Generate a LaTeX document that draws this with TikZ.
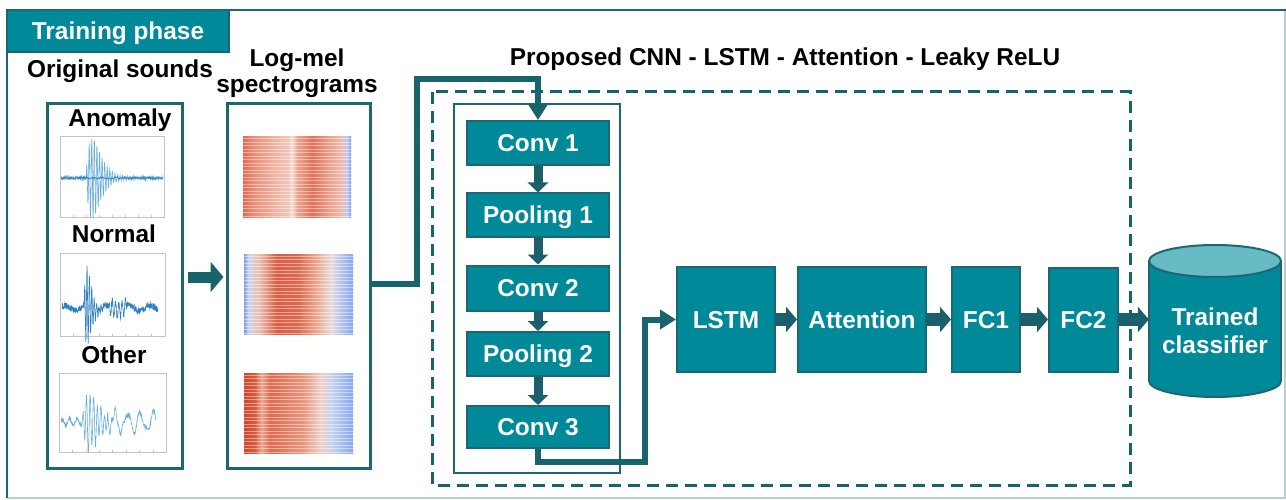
\documentclass[tikz,border=0pt]{standalone}
\usepackage{fontspec}
\setmainfont{Liberation Sans}
\usetikzlibrary{arrows.meta}
\definecolor{tealfill}{HTML}{008A99}
\definecolor{tealedge}{HTML}{1D6870}
\definecolor{tealdark}{HTML}{17646C}
\definecolor{arrowdark}{HTML}{1B5E6C}
\definecolor{cyltop}{HTML}{66BBC5}
\definecolor{framegray}{HTML}{B9CDD2}
\definecolor{plotgray}{HTML}{C4C4C4}
\definecolor{wavelight}{HTML}{6AAEDC}
\definecolor{wavemid}{HTML}{2F80C4}
% spectrogram colours
\definecolor{sA0}{HTML}{E36A50}
\definecolor{sA1}{HTML}{EC8F78}
\definecolor{sA2}{HTML}{F1B4A3}
\definecolor{sA3}{HTML}{F0C6BA}
\definecolor{sA4}{HTML}{F5DED6}
\definecolor{sA5}{HTML}{EFA590}
\definecolor{sA6}{HTML}{E0705A}
\definecolor{sA7}{HTML}{EC9580}
\definecolor{sA8}{HTML}{F0B8A8}
\definecolor{sA9}{HTML}{C9CBEA}
\definecolor{sA10}{HTML}{7E9BE8}
\definecolor{sB0}{HTML}{7C99E6}
\definecolor{sB1}{HTML}{CDD3EC}
\definecolor{sB2}{HTML}{EBBFAF}
\definecolor{sB3}{HTML}{D95E44}
\definecolor{sB4}{HTML}{DC6A4E}
\definecolor{sB5}{HTML}{EFA58C}
\definecolor{sB6}{HTML}{E6DCDE}
\definecolor{sB7}{HTML}{AFC1EE}
\definecolor{sB8}{HTML}{87A4EE}
\definecolor{sC0}{HTML}{D2472E}
\definecolor{sC1}{HTML}{D85A3E}
\definecolor{sC2}{HTML}{EFA58E}
\definecolor{sC3}{HTML}{DE6A50}
\definecolor{sC4}{HTML}{E9957C}
\definecolor{sC5}{HTML}{F0D0C6}
\definecolor{sC6}{HTML}{C6D2F0}
\definecolor{sC7}{HTML}{8AA7EE}
\pgfdeclarehorizontalshading{specA}{100bp}{color(0bp)=(sA0); color(25bp)=(sA0); color(30bp)=(sA1); color(40bp)=(sA2); color(46bp)=(sA3); color(47.5bp)=(sA4); color(50bp)=(sA5); color(57bp)=(sA6); color(63bp)=(sA7); color(70bp)=(sA8); color(73bp)=(sA9); color(75bp)=(sA10); color(100bp)=(sA10)}
\pgfdeclarehorizontalshading{specB}{100bp}{color(0bp)=(sB0); color(25bp)=(sB0); color(27bp)=(sB1); color(32bp)=(sB2); color(40bp)=(sB3); color(50bp)=(sB4); color(58bp)=(sB5); color(65bp)=(sB6); color(70bp)=(sB7); color(75bp)=(sB8); color(100bp)=(sB8)}
\pgfdeclarehorizontalshading{specC}{100bp}{color(0bp)=(sC0); color(25bp)=(sC0); color(30bp)=(sC1); color(33bp)=(sC2); color(37bp)=(sC3); color(52bp)=(sC4); color(60bp)=(sC5); color(65bp)=(sC6); color(75bp)=(sC7); color(100bp)=(sC7)}
\newcommand\lblfont{\fontsize{24.4}{28}\selectfont\bfseries}
\begin{document}
\begin{tikzpicture}[x=1pt,y=-1pt,
  txt/.style={font=\lblfont, text=black, inner sep=0pt, anchor=base},
  blk/.style={draw=tealedge, line width=2pt, fill=tealfill, text=white, font=\lblfont,
    inner sep=0pt, text height=17.5pt, text depth=0pt},
  tab/.style={draw=tealedge, line width=2pt, fill=tealfill, text=white, font=\lblfont,
    inner sep=0pt, text height=17.5pt, text depth=0pt, minimum width=222pt, minimum height=42pt},
  panel/.style={draw=tealedge, line width=3pt, inner sep=0pt},
  conn/.style={draw=tealdark, line width=6pt, -{Triangle[width=19pt,length=16pt]}},
  smallarr/.style={draw=arrowdark, line width=9pt, -{Triangle[width=20pt,length=10pt]}},
  harr/.style={draw=arrowdark, line width=13pt, -{Triangle[width=25pt,length=11pt]}},
  bigarr/.style={draw=tealdark, line width=11pt, -{Triangle[width=30pt,length=13pt]}},
  plotframe/.style={draw=plotgray, line width=0.8pt},
  stripe/.style={white, opacity=0.45, line width=1pt}]
\useasboundingbox (0,0) rectangle (1286,500);
\fill[white] (0,0) rectangle (1286,500);
\pgfmathsetseed{7}

% outer frame
\draw[framegray, line width=1.5pt] (7,498) -- (1285,498) -- (1285,10);
\draw[tealedge, line width=2pt] (7,498) -- (7,10) -- (1286,10);
\node[tab] (tab) at (118,31) {Training phase};

% headings
\node[txt] (hsnd) at (120,78) {Original sounds};
\node[txt] (hlog1) at (297,67) {Log-mel};
\node[txt] (hlog2) at (297,93) {spectrograms};
\node[txt] (hprop) at (785,66) {Proposed CNN - LSTM - Attention - Leaky ReLU};

% panels
\node[panel, minimum width=135pt, minimum height=364pt] (snd) at (114.5,286) {};
\node[panel, minimum width=143pt, minimum height=364pt] (spec) at (298.5,286) {};

% waveform labels
\node[txt] (lan) at (120,127) {Anomaly};
\node[txt] (lno) at (114,243) {Normal};
\node[txt] (lot) at (114,363) {Other};

% waveform plots
\draw[plotframe] (60,136) rectangle (164,217);
\draw[plotframe] (60,253) rectangle (165,336);
\draw[plotframe] (59,373) rectangle (166,452);
\foreach \i in {0,...,7}{
  \draw[plotgray, line width=0.5pt] ({60+13*\i},217) -- ++(0,-2);
  \draw[plotgray, line width=0.5pt] ({60+13*\i},336) -- ++(0,-2);
  \draw[plotgray, line width=0.5pt] ({59+13.4*\i},452) -- ++(0,-2);
}
\draw[wavelight, line width=0.6pt] plot[domain=61:163, samples=500]
  (\x,{178-(40*(max(\x-86,0)/6)*exp(1-min(max(\x-86,0),60)/6)*sin(140*(\x-86))+1.3*rand)});
\draw[wavemid, line width=0.7pt] plot[domain=61:163, samples=160]
  (\x,{178+1.2*rand});
\draw[wavemid, line width=0.6pt] plot[domain=62:158, samples=500]
  (\x,{308-(38*(max(\x-84,0)/3)*exp(1-min(max(\x-84,0),30)/3)*sin(150*(\x-84))+2.5*sin(17*(\x-60))+(abs(\x-118)<8)*7*sin(110*(\x-118))+3*rand)});
\draw[wavelight, line width=0.6pt] plot[domain=61:156, samples=450]
  (\x,{422-(3*sin(47*(\x-60))+1.5*rand+28*(max(\x-82,0)/7)*exp(1-min(max(\x-82,0),60)/7)*sin(100*(\x-82))+(\x>108)*9*sin(28*(\x-60)))});

% spectrograms
\shade[shading=specA] (243,137) rectangle (351,217);
\shade[shading=specB] (244,254) rectangle (353,334);
\shade[shading=specC] (244,373) rectangle (353,453);
\foreach \yy in {139,142.5,...,216}{\draw[stripe] (243,\yy) -- (351,\yy);}
\foreach \yy in {256,259.5,...,333}{\draw[stripe] (244,\yy) -- (353,\yy);}
\foreach \yy in {375,378.5,...,452}{\draw[stripe] (244,\yy) -- (353,\yy);}

% sounds -> spectrograms
\draw[bigarr, shorten <=4pt, shorten >=2pt] ([yshift=9pt]snd.east) -- ([yshift=9pt]spec.west);

% model frames
\draw[tealdark, line width=3pt, dash pattern=on 12pt off 7pt] (432,92) rectangle (1130,485);
\draw[tealedge, line width=2pt] (454,104) rectangle (620,473);

% CNN blocks
\node[blk, minimum width=142pt, minimum height=44pt] (conv1) at (538,143) {Conv 1};
\node[blk, minimum width=142pt, minimum height=43pt] (pool1) at (538,215) {Pooling 1};
\node[blk, minimum width=142pt, minimum height=45pt] (conv2) at (538,288) {Conv 2};
\node[blk, minimum width=142pt, minimum height=44pt] (pool2) at (538,354) {Pooling 2};
\node[blk, minimum width=142pt, minimum height=42pt] (conv3) at (538,427) {Conv 3};

\draw[smallarr] (conv1.south) -- (pool1.north);
\draw[smallarr] (pool1.south) -- (conv2.north);
\draw[smallarr] (conv2.south) -- (pool2.north);
\draw[smallarr] (pool2.south) -- (conv3.north);

% right blocks
\node[blk, minimum width=98pt, minimum height=105pt] (lstm) at (726,319.5) {LSTM};
\node[blk, minimum width=128pt, minimum height=105pt] (att) at (862,319.5) {Attention};
\node[blk, minimum width=68pt, minimum height=105pt] (fc1) at (986,319.5) {FC1};
\node[blk, minimum width=69pt, minimum height=104pt] (fc2) at (1083.5,319.5) {FC2};

\draw[harr] (lstm.east) -- (att.west);
\draw[harr] (att.east) -- (fc1.west);
\draw[harr] (fc1.east) -- (fc2.west);

% cylinder
\filldraw[fill=tealfill, draw=tealedge, line width=2pt] (1215,381) ellipse (66 and 16);
\fill[tealfill] (1149,261) rectangle (1281,381);
\draw[tealedge, line width=2pt] (1149,261) -- (1149,381) (1281,261) -- (1281,381);
\filldraw[fill=cyltop, draw=tealedge, line width=2pt] (1215,261) ellipse (66 and 16);
\node[inner sep=0pt, minimum width=132pt, minimum height=152pt] (clf) at (1215,321) {};
\node[txt, text=white] (clf1) at (1215,325) {Trained};
\node[txt, text=white] (clf2) at (1215,353) {classifier};
\draw[harr] (fc2.east) -- (fc2.east -| clf.west);

% long connectors
\draw[conn] ([yshift=2pt]spec.east) -| (416.5,79) -| (conv1.north);
\draw[conn] (conv3.south) |- (645,462) |- (lstm.west);
\end{tikzpicture}
\end{document}
